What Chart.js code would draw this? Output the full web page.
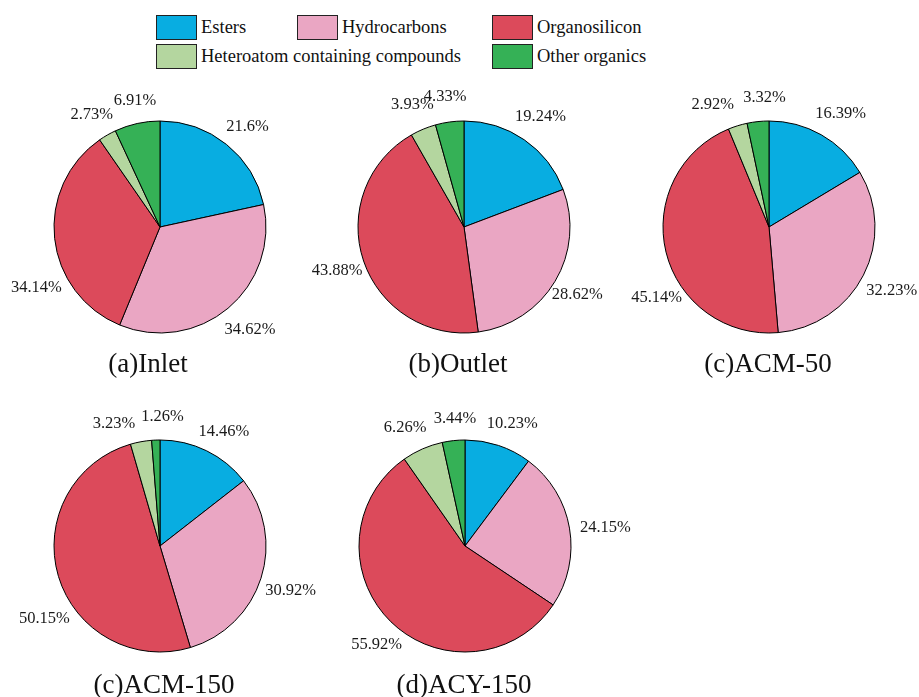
<!DOCTYPE html>
<html>
<head>
<meta charset="utf-8">
<title>Composition of VOCs by category</title>
<script src="https://cdn.jsdelivr.net/npm/chart.js@4/dist/chart.umd.min.js"></script>
<style>
  html, body { margin: 0; padding: 0; background: #ffffff; }
  body { width: 919px; height: 697px; overflow: hidden; position: relative; font-family: "Liberation Serif", "Times New Roman", serif; }
  canvas.pie { position: absolute; }
  .legend-item { position: absolute; display: flex; align-items: center; height: 25px; }
  .legend-box { width: 39px; height: 23px; border: 1px solid #222; box-sizing: content-box; margin-right: 4px; }
  .legend-text { font-size: 18.5px; color: #111; white-space: nowrap; line-height: 25px; }
</style>
</head>
<body>
<div id="legend"></div>

<script>
// Category names and colours
const categories = ['Esters', 'Hydrocarbons', 'Organosilicon', 'Heteroatom containing compounds', 'Other organics'];
const categoryColors = ['#08ade1', '#eaa6c3', '#dc4a5b', '#b4d69f', '#35b156'];

// Percentage share of each category, per sampling point
const inletShare   = [21.6, 34.62, 34.14, 2.73, 6.91];
const outletShare  = [19.24, 28.62, 43.88, 3.93, 4.33];
const acm50Share   = [16.39, 32.23, 45.14, 2.92, 3.32];
const acm150Share  = [14.46, 30.92, 50.15, 3.23, 1.26];
const acy150Share  = [10.23, 24.15, 55.92, 6.26, 3.44];

// Panel captions
const panelTitles = ['(a)Inlet', '(b)Outlet', '(c)ACM-50', '(c)ACM-150', '(d)ACY-150'];

// Page layout: pie centre, caption offset and hand-placed label nudges
const SIZE = 340, HALF = SIZE / 2, RADIUS = 106;
const panels = [
  { share: inletShare,  cx: 160, cy: 227, titleDx: -12, titleDy: 145,
    nudge: [[0, -4], [-2, 8], [19, 47], [1, -5], [5, -5]] },
  { share: outletShare, cx: 464, cy: 227, titleDx: -6, titleDy: 145,
    nudge: [[-5, -8], [-10, 4], [9, 4], [2, -8], [0, -7]] },
  { share: acm50Share,  cx: 769, cy: 227, titleDx: -1, titleDy: 145,
    nudge: [[1, -5], [-5, 7], [27, 41], [-15, -4], [10, -6]] },
  { share: acm150Share, cx: 160, cy: 546, titleDx: 4, titleDy: 147,
    nudge: [[1, -3], [-6, 7], [22, 38], [-21, 0], [8, -5]] },
  { share: acy150Share, cx: 465, cy: 546, titleDx: -1, titleDy: 147,
    nudge: [[2, -5], [-1, 3], [12, 10], [-4, -5], [5, -4]] }
];

// Legend (two rows, three columns)
const legendSlots = [
  { left: 156, top: 15 }, { left: 297, top: 15 }, { left: 492, top: 15 },
  { left: 156, top: 44 }, { left: 492, top: 44 }
];
const legendEl = document.getElementById('legend');
categories.forEach((name, i) => {
  const item = document.createElement('div');
  item.className = 'legend-item';
  item.style.left = legendSlots[i].left + 'px';
  item.style.top = legendSlots[i].top + 'px';
  const box = document.createElement('span');
  box.className = 'legend-box';
  box.style.background = categoryColors[i];
  const txt = document.createElement('span');
  txt.className = 'legend-text';
  txt.textContent = name;
  item.appendChild(box);
  item.appendChild(txt);
  legendEl.appendChild(item);
});

// Percentage labels around each slice plus the panel caption
const sliceLabels = {
  id: 'sliceLabels',
  afterDatasetsDraw(chart, args, opts) {
    const ctx = chart.ctx;
    const meta = chart.getDatasetMeta(0);
    const values = chart.data.datasets[0].data;
    ctx.save();
    ctx.fillStyle = '#1a1a1a';
    ctx.font = '16.5px "Liberation Serif", "Times New Roman", serif';
    ctx.textAlign = 'center';
    ctx.textBaseline = 'middle';
    meta.data.forEach((arc, i) => {
      const p = arc.getProps(['x', 'y', 'startAngle', 'endAngle', 'outerRadius'], true);
      const mid = (p.startAngle + p.endAngle) / 2;
      const ux = Math.cos(mid), uy = Math.sin(mid);
      const text = values[i] + '%';
      const w = ctx.measureText(text).width;
      const d = p.outerRadius + 12;
      const n = opts.nudge[i] || [0, 0];
      const x = p.x + ux * d + ux * w / 2 + n[0];
      const y = p.y + uy * d + uy * 6 + n[1];
      ctx.fillText(text, x, y);
    });
    ctx.font = '27px "Liberation Serif", "Times New Roman", serif';
    ctx.textBaseline = 'alphabetic';
    ctx.fillStyle = '#111';
    const c = meta.data[0];
    ctx.fillText(opts.title, c.x + opts.titleDx, c.y + opts.titleDy);
    ctx.restore();
  }
};

panels.forEach((panel, k) => {
  const canvas = document.createElement('canvas');
  canvas.className = 'pie';
  canvas.width = SIZE;
  canvas.height = SIZE;
  canvas.style.width = SIZE + 'px';
  canvas.style.height = SIZE + 'px';
  canvas.style.left = (panel.cx - HALF) + 'px';
  canvas.style.top = (panel.cy - HALF) + 'px';
  document.body.appendChild(canvas);

  new Chart(canvas, {
    type: 'pie',
    data: {
      labels: categories,
      datasets: [{
        data: panel.share,
        backgroundColor: categoryColors,
        borderColor: '#000000',
        borderWidth: 1,
        radius: RADIUS
      }]
    },
    options: {
      responsive: false,
      animation: false,
      events: [],
      radius: RADIUS,
      layout: { padding: 0 },
      plugins: {
        legend: { display: false },
        tooltip: { enabled: false },
        title: { display: false },
        sliceLabels: {
          nudge: panel.nudge,
          title: panelTitles[k],
          titleDx: panel.titleDx,
          titleDy: panel.titleDy
        }
      }
    },
    plugins: [sliceLabels]
  });
});
</script>
</body>
</html>
